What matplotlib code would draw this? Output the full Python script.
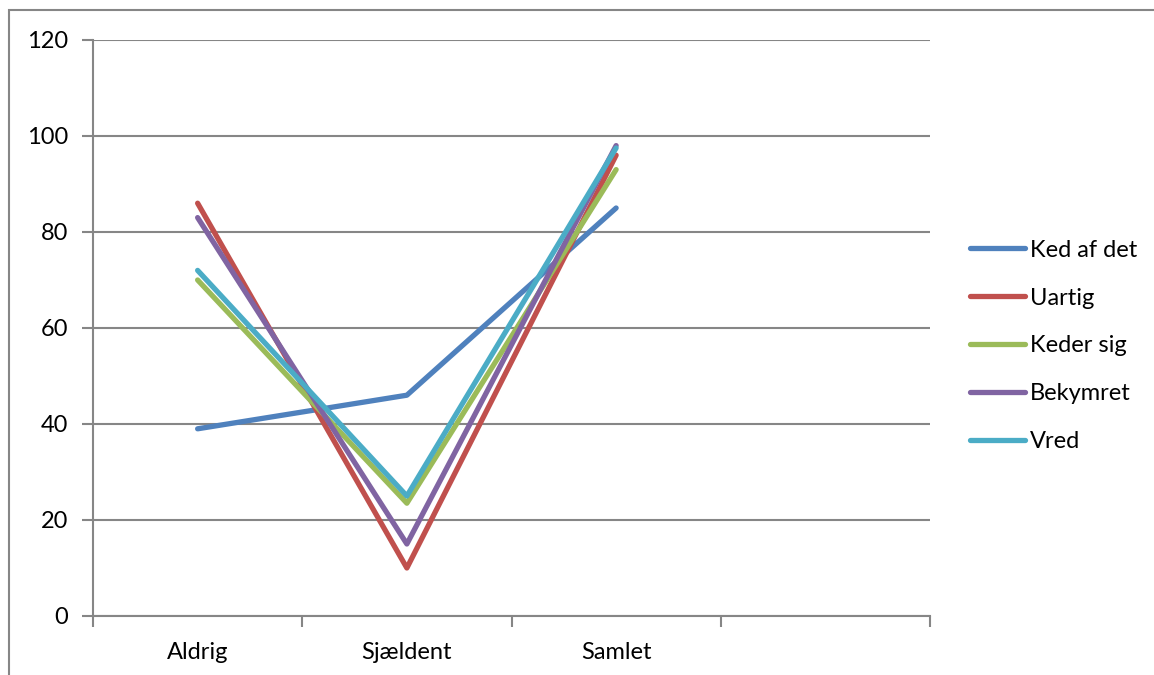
import matplotlib.pyplot as plt
from matplotlib.patches import Rectangle

categories = ['Aldrig', 'Sjældent', 'Samlet', '']
series_names = ['Ked af det', 'Uartig', 'Keder sig', 'Bekymret', 'Vred']
ked_af_det = [39, 46, 85]
uartig = [86, 10, 96]
keder_sig = [70, 23.5, 93]
bekymret = [83, 15, 98]
vred = [72, 25, 97.5]
y_ticks = [0, 20, 40, 60, 80, 100, 120]

colors = ['#4F81BD', '#C0504D', '#9BBB59', '#8064A2', '#4BACC6']
grid_color = '#868686'
fs = 17

plt.rcParams['font.family'] = ['Lato', 'DejaVu Sans']

fig = plt.figure(figsize=(11.54, 6.75), dpi=100)
ax = fig.add_axes([93 / 1154, 59 / 675, 837 / 1154, 576 / 675])

# chart border (only left and top edges visible in the reference)
fig.patches.append(Rectangle((9 / 1154, -0.1), 1.2, (665 / 675) + 0.1,
                             transform=fig.transFigure, fill=False,
                             edgecolor=grid_color, linewidth=1.5))

all_series = [ked_af_det, uartig, keder_sig, bekymret, vred]
x = list(range(len(ked_af_det)))
for name, vals, c in zip(series_names, all_series, colors):
    ax.plot(x, vals, color=c, linewidth=3.8, solid_capstyle='round',
            solid_joinstyle='round', label=name)

ax.set_xlim(-0.5, len(categories) - 0.5)
ax.set_ylim(0, 120)
ax.set_yticks(y_ticks)
ax.yaxis.grid(True, color=grid_color, linewidth=1.5)
ax.set_axisbelow(True)

ax.set_xticks([i - 0.5 for i in range(len(categories) + 1)])
ax.set_xticklabels([])
ax.set_xticks(range(len(categories)), minor=True)
ax.set_xticklabels(categories, minor=True)
ax.tick_params(axis='x', which='minor', length=0, pad=19, labelsize=fs)
ax.tick_params(axis='x', which='major', length=8, width=1.5, color=grid_color)
ax.tick_params(axis='y', length=8, width=1.5, color=grid_color, pad=10, labelsize=fs)

for side in ['top', 'right']:
    ax.spines[side].set_visible(False)
for side in ['left', 'bottom']:
    ax.spines[side].set_color(grid_color)
    ax.spines[side].set_linewidth(1.5)

fig.legend(loc='center left', bbox_to_anchor=(970 / 1154, (675 - 346) / 675),
           frameon=False, fontsize=fs, handlelength=2.35, handletextpad=0.2,
           labelspacing=1.14, borderpad=0, borderaxespad=0)

fig.savefig('out.png', dpi=100)
